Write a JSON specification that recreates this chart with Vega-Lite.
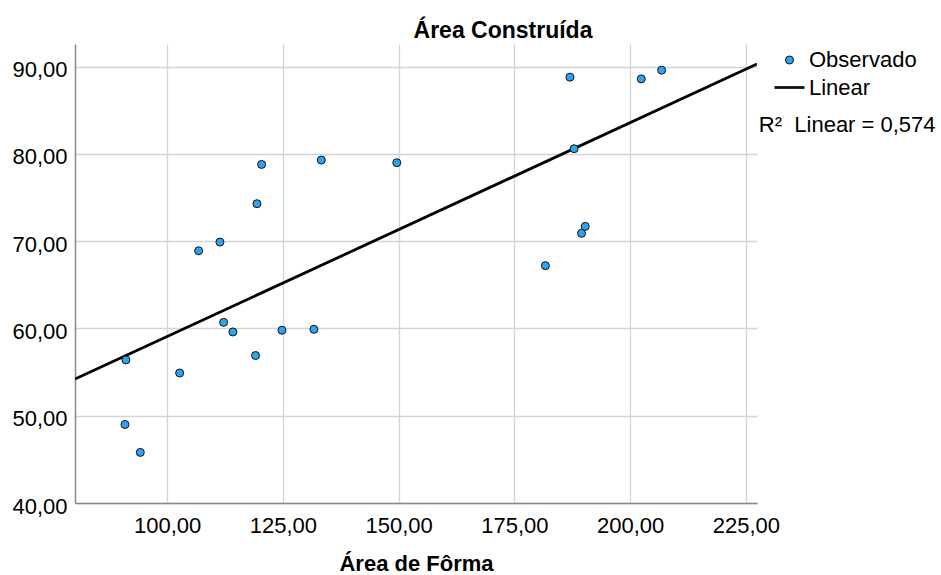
{
  "$schema": "https://vega.github.io/schema/vega-lite/v6.json",
  "autosize": {"type": "none"},
  "width": 682,
  "height": 459,
  "padding": {"left": 75, "top": 44, "right": 184, "bottom": 72},
  "background": "white",
  "config": {
    "view": {"stroke": null},
    "font": "Liberation Sans"
  },
  "title": {
    "text": "Área Construída",
    "font": "Liberation Sans",
    "fontSize": 23,
    "fontWeight": "bold",
    "color": "black",
    "anchor": "middle",
    "frame": "group",
    "dx": 87,
    "dy": 26,
    "baseline": "alphabetic",
    "offset": 9
  },
  "datasets": {
    "points": [
      {"x": 90.9, "y": 49.0, "series": "Observado"},
      {"x": 91.1, "y": 56.4, "series": "Observado"},
      {"x": 94.2, "y": 45.8, "series": "Observado"},
      {"x": 102.7, "y": 54.9, "series": "Observado"},
      {"x": 106.8, "y": 68.9, "series": "Observado"},
      {"x": 111.4, "y": 69.9, "series": "Observado"},
      {"x": 112.2, "y": 60.7, "series": "Observado"},
      {"x": 114.2, "y": 59.6, "series": "Observado"},
      {"x": 119.1, "y": 56.9, "series": "Observado"},
      {"x": 119.4, "y": 74.3, "series": "Observado"},
      {"x": 120.4, "y": 78.8, "series": "Observado"},
      {"x": 124.8, "y": 59.8, "series": "Observado"},
      {"x": 131.7, "y": 59.9, "series": "Observado"},
      {"x": 133.3, "y": 79.3, "series": "Observado"},
      {"x": 149.6, "y": 79.0, "series": "Observado"},
      {"x": 181.7, "y": 67.2, "series": "Observado"},
      {"x": 187.0, "y": 88.8, "series": "Observado"},
      {"x": 187.9, "y": 80.6, "series": "Observado"},
      {"x": 189.5, "y": 70.9, "series": "Observado"},
      {"x": 190.3, "y": 71.7, "series": "Observado"},
      {"x": 202.4, "y": 88.6, "series": "Observado"},
      {"x": 206.8, "y": 89.6, "series": "Observado"}
    ],
    "fit": [
      {"x": 80.1, "y": 54.2, "series": "Linear"},
      {"x": 227.4, "y": 90.3, "series": "Linear"}
    ],
    "note": [
      {"x": 227.8, "y": 83.3, "label": "R²\u00a0 Linear = 0,574"}
    ]
  },
  "layer": [
    {
      "data": {"name": "fit"},
      "mark": {"type": "line", "color": "black", "strokeWidth": 2.8, "clip": true},
      "encoding": {
        "x": {
          "field": "x", "type": "quantitative",
          "scale": {"domain": [80.1, 227.4], "nice": false, "zero": false},
          "axis": {
            "values": [100, 125, 150, 175, 200, 225],
            "labelExpr": "replace(format(datum.value, '.2f'), '.', ',')",
            "title": "Área de Fôrma",
            "ticks": false,
            "labelPadding": 12,
            "labelFont": "Liberation Sans",
            "labelFontSize": 22,
            "labelColor": "black",
            "labelFlush": false,
            "titleFont": "Liberation Sans",
            "titleFontSize": 22,
            "titleFontWeight": "bold",
            "titleColor": "black",
            "titlePadding": 17,
            "domainColor": "#8a8a8a",
            "domainWidth": 1.5,
            "gridColor": "#d4d4d4",
            "gridWidth": 1.3
          }
        },
        "y": {
          "field": "y", "type": "quantitative",
          "scale": {"domain": [40, 92.6], "nice": false, "zero": false},
          "axis": {
            "values": [40, 50, 60, 70, 80, 90],
            "labelExpr": "replace(format(datum.value, '.2f'), '.', ',')",
            "title": null,
            "ticks": false,
            "labelPadding": 8,
            "labelOffset": 3,
            "labelFont": "Liberation Sans",
            "labelFontSize": 22,
            "labelColor": "black",
            "labelFlush": false,
            "domainColor": "#8a8a8a",
            "domainWidth": 1.5,
            "gridColor": "#d4d4d4",
            "gridWidth": 1.3
          }
        }
      }
    },
    {
      "data": {"name": "points"},
      "mark": {"type": "point", "filled": true, "fill": "#2ea3f2", "stroke": "#111111", "opacity": 1},
      "encoding": {
        "x": {"field": "x", "type": "quantitative", "scale": {"domain": [80.1, 227.4], "nice": false, "zero": false}},
        "y": {"field": "y", "type": "quantitative", "scale": {"domain": [40, 92.6], "nice": false, "zero": false}},
        "shape": {
          "field": "series", "type": "nominal",
          "scale": {"domain": ["Observado", "Linear"], "range": ["circle", "stroke"]},
          "legend": {
            "title": null,
            "orient": "right",
            "offset": 11,
            "padding": 5,
            "labelOffset": 3,
            "rowPadding": 0,
            "labelFont": "Liberation Sans",
            "labelFontSize": 22,
            "labelColor": "black",
            "labelLimit": 300
          }
        },
        "size": {
          "field": "series", "type": "nominal",
          "scale": {"domain": ["Observado", "Linear"], "range": [64, 900]},
          "legend": {
            "title": null,
            "orient": "right",
            "offset": 11,
            "padding": 5,
            "labelOffset": 3,
            "rowPadding": 0,
            "labelFont": "Liberation Sans",
            "labelFontSize": 22,
            "labelColor": "black",
            "labelLimit": 300
          }
        },
        "strokeWidth": {
          "field": "series", "type": "nominal",
          "scale": {"domain": ["Observado", "Linear"], "range": [1, 2.8]},
          "legend": {
            "title": null,
            "orient": "right",
            "offset": 11,
            "padding": 5,
            "labelOffset": 3,
            "rowPadding": 0,
            "labelFont": "Liberation Sans",
            "labelFontSize": 22,
            "labelColor": "black",
            "labelLimit": 300
          }
        }
      }
    },
    {
      "data": {"name": "note"},
      "mark": {"type": "text", "align": "left", "baseline": "middle", "font": "Liberation Sans", "fontSize": 22, "color": "black"},
      "encoding": {
        "x": {"field": "x", "type": "quantitative", "scale": {"domain": [80.1, 227.4], "nice": false, "zero": false}},
        "y": {"field": "y", "type": "quantitative", "scale": {"domain": [40, 92.6], "nice": false, "zero": false}},
        "text": {"field": "label"}
      }
    }
  ]
}
